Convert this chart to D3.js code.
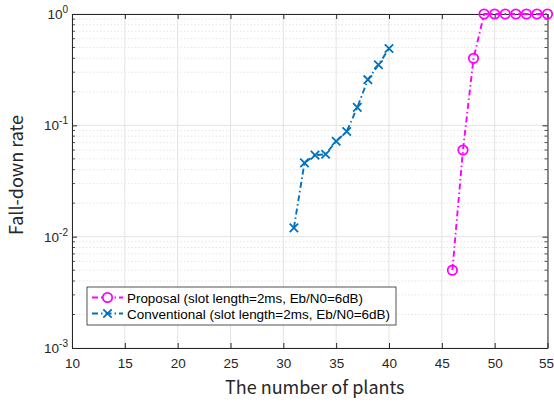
<!DOCTYPE html>
<html><head><meta charset="utf-8">
<script src="https://cdn.jsdelivr.net/npm/d3@7"></script>
<style>body{margin:0;background:#fff;}</style>
</head><body>
<svg id="c" width="554" height="403"></svg>
<script>
const convX = [31,32,33,34,35,36,37,38,39,40];
const convY = [0.012,0.046,0.054,0.055,0.072,0.088,0.145,0.257,0.35,0.49];
const propX = [46,47,48,49,50,51,52,53,54,55];
const propY = [0.005,0.06,0.40,1,1,1,1,1,1,1];
const xTicks = [10,15,20,25,30,35,40,45,50,55];
const yTicks = [1e-3,1e-2,1e-1,1];
const yExp = ["-3","-2","-1","0"];
const seriesNames = ["Proposal (slot length=2ms, Eb/N0=6dB)","Conventional (slot length=2ms, Eb/N0=6dB)"];
const colors = ["#FF00FF","#0072BD"];

const SANS = "Liberation Sans, Arial, sans-serif";
const CJK = "Noto Sans CJK JP, Noto Sans, sans-serif";
const L=72, R=547.5, T=14, B=348;
const svg = d3.select("#c");
const x = d3.scaleLinear().domain([10,55]).range([L,R]);
const y = d3.scaleLog().domain([1e-3,1]).range([B,T]);

const minor=[];
for(let e=-3;e<0;e++) for(let m=2;m<=9;m++) minor.push(m*Math.pow(10,e));
const g = svg.append("g");
g.selectAll(".mn").data(minor).enter().append("line")
 .attr("x1",L).attr("x2",R).attr("y1",d=>y(d)).attr("y2",d=>y(d))
 .attr("stroke","#d4d4d4").attr("stroke-width",0.6).attr("stroke-dasharray","1.5,2");
g.selectAll(".mjy").data(yTicks).enter().append("line")
 .attr("x1",L).attr("x2",R).attr("y1",d=>y(d)).attr("y2",d=>y(d))
 .attr("stroke","#e3e3e3").attr("stroke-width",1);
g.selectAll(".mjx").data(xTicks).enter().append("line")
 .attr("x1",d=>x(d)).attr("x2",d=>x(d)).attr("y1",T).attr("y2",B)
 .attr("stroke","#e3e3e3").attr("stroke-width",1);

const ax = svg.append("g");
const xb = d3.axisBottom(x).tickValues(xTicks).tickSizeInner(-5).tickSizeOuter(0).tickPadding(10).tickFormat(d3.format("d"));
ax.append("g").attr("transform",`translate(0,${B})`).call(xb)
 .call(s=>{s.attr("font-family",SANS).attr("font-size",13.5);
  s.select(".domain").attr("stroke","#262626");s.selectAll("line").attr("stroke","#262626");
  s.selectAll("text").attr("fill","#262626");
  s.selectAll("text").filter(d=>d===55).attr("text-anchor","end").attr("x",6);});
ax.append("g").attr("transform",`translate(0,${T})`).call(d3.axisTop(x).tickValues(xTicks).tickSizeInner(-5).tickSizeOuter(0).tickFormat(""))
 .call(s=>{s.select(".domain").attr("stroke","#262626");s.selectAll("line").attr("stroke","#262626");});
const yl = d3.axisLeft(y).tickValues(yTicks).tickSizeInner(-5).tickSizeOuter(0).tickFormat("");
ax.append("g").attr("transform",`translate(${L},0)`).call(yl)
 .call(s=>{s.select(".domain").attr("stroke","#262626");s.selectAll("line").attr("stroke","#262626");});
ax.append("g").attr("transform",`translate(${R},0)`).call(d3.axisRight(y).tickValues(yTicks).tickSizeInner(-5).tickSizeOuter(0).tickFormat(""))
 .call(s=>{s.select(".domain").attr("stroke","#262626");s.selectAll("line").attr("stroke","#262626");});
[L,R].forEach((xx,i)=>{
 ax.selectAll(null).data(minor).enter().append("line")
  .attr("x1",xx).attr("x2",xx+(i==0?3:-3)).attr("y1",d=>y(d)).attr("y2",d=>y(d))
  .attr("stroke","#262626").attr("stroke-width",0.8);
});
yTicks.forEach((v,i)=>{
 const t = svg.append("text").attr("x",L-4).attr("y",y(v)+5).attr("text-anchor","end")
  .attr("font-size",13.5).attr("fill","#262626").attr("font-family",SANS);
 t.append("tspan").text("10");
 t.append("tspan").attr("dy",-6).attr("font-size",10).text(yExp[i]);
});

svg.append("text").attr("x",(L+R)/2+5).attr("y",394).attr("text-anchor","middle")
 .attr("font-family",CJK).attr("font-size",18).attr("fill","#262626").text("The number of plants");
svg.append("text").attr("transform",`translate(23,${(T+B)/2-6}) rotate(-90)`).attr("text-anchor","middle")
 .attr("font-family",CJK).attr("font-size",18).attr("fill","#262626").text("Fall-down rate");

const data = [propX.map((d,i)=>[d,propY[i]]), convX.map((d,i)=>[d,convY[i]])];
const line = d3.line().x(d=>x(d[0])).y(d=>y(d[1]));
const plot = svg.append("g");
data.forEach((s,k)=>{
 plot.append("path").datum(s).attr("d",line).attr("fill","none").attr("stroke",colors[k])
  .attr("stroke-width",1.9).attr("stroke-dasharray","6,3,1.5,3");
});
plot.selectAll(".o").data(data[0]).enter().append("circle")
 .attr("cx",d=>x(d[0])).attr("cy",d=>y(d[1])).attr("r",4.7)
 .attr("fill","none").attr("stroke",colors[0]).attr("stroke-width",1.8);
const xm = (g,cx,cy,c)=>{const r=4.2;
 g.append("path").attr("d",`M${cx-r},${cy-r}L${cx+r},${cy+r}M${cx-r},${cy+r}L${cx+r},${cy-r}`)
  .attr("stroke",c).attr("stroke-width",1.8).attr("fill","none");};
data[1].forEach(d=>xm(plot,x(d[0]),y(d[1]),colors[1]));

const lg = svg.append("g");
lg.append("rect").attr("x",87).attr("y",287).attr("width",309).attr("height",38)
 .attr("fill","#fff").attr("stroke","#262626").attr("stroke-width",0.8);
const lens = [236, 263];
seriesNames.forEach((n,k)=>{
 const yy = 297.5+k*16;
 lg.append("line").attr("x1",92).attr("x2",123).attr("y1",yy).attr("y2",yy)
  .attr("stroke",colors[k]).attr("stroke-width",1.8).attr("stroke-dasharray","6,3,1.5,3");
 if(k==0) lg.append("circle").attr("cx",107.5).attr("cy",yy).attr("r",4.7).attr("fill","#fff").attr("stroke",colors[0]).attr("stroke-width",1.8);
 else xm(lg,107.5,yy,colors[1]);
 lg.append("text").attr("x",127).attr("y",yy+5).attr("font-size",13).attr("fill","#000")
  .attr("font-family",SANS)
  .attr("textLength",lens[k]).attr("lengthAdjust","spacingAndGlyphs").text(n);
});
</script>
</body></html>
